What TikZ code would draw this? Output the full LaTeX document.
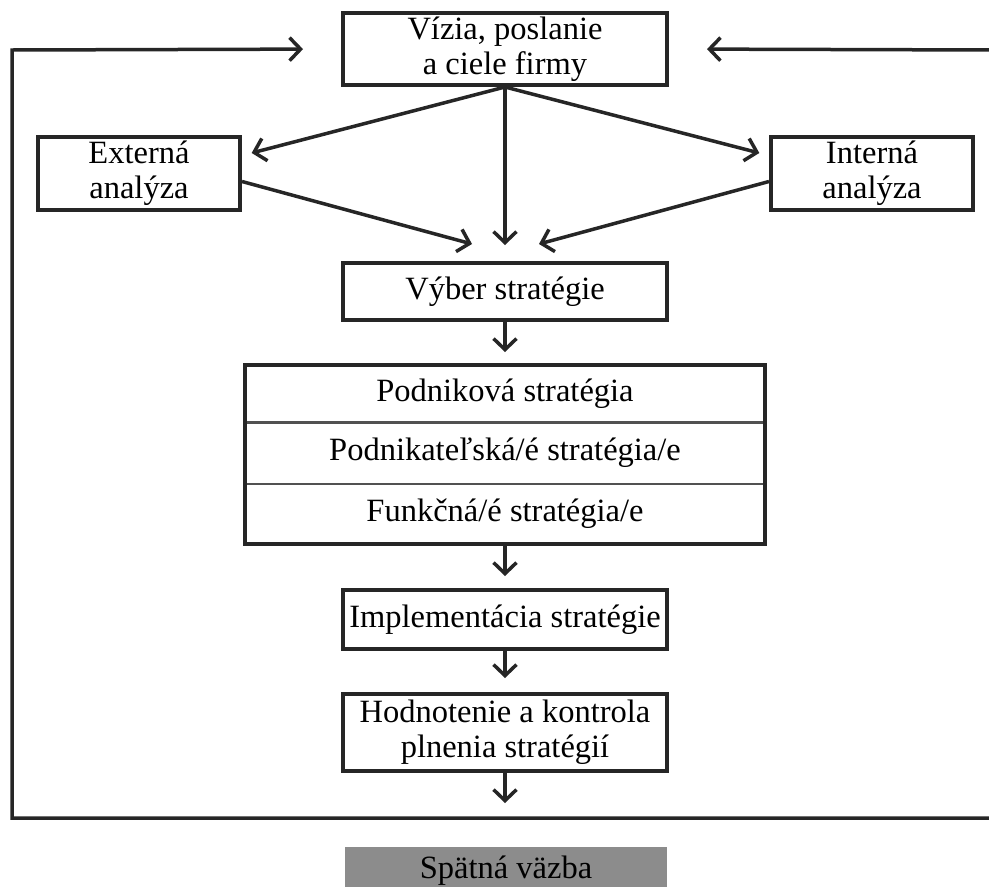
\documentclass[tikz,border=0pt]{standalone}
\usepackage{fontspec}
\setmainfont{Liberation Serif}
\usetikzlibrary{arrows.meta}
\definecolor{ink}{HTML}{262626}
\definecolor{fbgray}{HTML}{8C8C8C}
\begin{document}
\begin{tikzpicture}[x=1pt,y=-1pt,
  every node/.style={font=\fontsize{32.5}{36}\selectfont, text=black},
  box/.style={draw=ink, line width=4pt, fill=white, inner sep=0pt, align=center},
  row/.style={inner sep=0pt, minimum width=520pt, anchor=north},
  arr/.style={draw=ink, line width=3.5pt, -{Straight Barb[length=11pt,width=23pt]}},
  divider/.style={draw=ink!80, line width=2.5pt}]
\clip (0,0) rectangle (989,887);
\fill[white] (0,0) rectangle (989,887);

% main boxes
\node[box, minimum width=324pt, minimum height=72pt] (top) at (505,49)
  {Vízia, poslanie\\[-1pt]a ciele firmy};
\node[box, minimum width=202pt, minimum height=73pt] (ext) at (139,173.5)
  {Externá\\[-1pt]analýza};
\node[box, minimum width=202pt, minimum height=73pt] (int) at (872,173.5)
  {Interná\\[-1pt]analýza};
\node[box, minimum width=324pt, minimum height=57pt] (vyber) at (505,291.5)
  {Výber stratégie};

% strategy levels
\node[row, minimum height=57pt] (row1) at (505,365) {Podniková stratégia};
\node[row, minimum height=61pt] (row2) at (row1.south) {Podnikateľská/é stratégia/e};
\node[row, minimum height=60pt] (row3) at (row2.south) {Funkčná/é stratégia/e};
\draw[divider] (row1.south west) -- (row1.south east);
\draw[divider] (row2.south west) -- (row2.south east);
\draw[draw=ink, line width=4pt] (row1.north west) rectangle (row3.south east);

\node[box, minimum width=324pt, minimum height=59pt] (impl) at (505,619.5)
  {Implementácia stratégie};
\node[box, minimum width=324pt, minimum height=77pt] (hod) at (505,732.5)
  {Hodnotenie a kontrola\\[-1pt]plnenia stratégií};

\node[fill=fbgray, inner sep=0pt, minimum width=322pt, minimum height=48pt] (fb) at (506,871)
  {Spätná väzba};

% feedback loop
\coordinate (fbL) at (12,818);
\coordinate (fbR) at (995,818);
\coordinate (fbTL) at (12,50);
\coordinate (fbTR) at (995,50);

% connectors
\draw[arr, shorten >=16pt] (top.south) -- (vyber.north);
\draw[arr, shorten >=10pt] (top.south) -- ([yshift=18pt]ext.east);
\draw[arr, shorten >=10pt] (top.south) -- ([yshift=18pt]int.west);
\draw[arr] ([yshift=-8pt]ext.east) -- ([xshift=-33pt,yshift=17pt]vyber.north);
\draw[arr] ([yshift=-8pt]int.west) -- ([xshift=34pt,yshift=17pt]vyber.north);
\draw[arr, shorten >=13pt] (vyber.south) -- (row1.north);
\draw[arr, shorten >=12pt] (row3.south) -- (impl.north);
\draw[arr, shorten >=14pt] (impl.south) -- (hod.north);
\draw[arr, shorten >=15pt] (hod.south) -- (hod.south |- fbL);
\draw[arr, shorten >=38pt] (fbR) -- (fbL) -- (fbTL) -- (top.west);
\draw[arr, shorten >=38pt] (fbTR) -- (top.east);
\end{tikzpicture}
\end{document}
